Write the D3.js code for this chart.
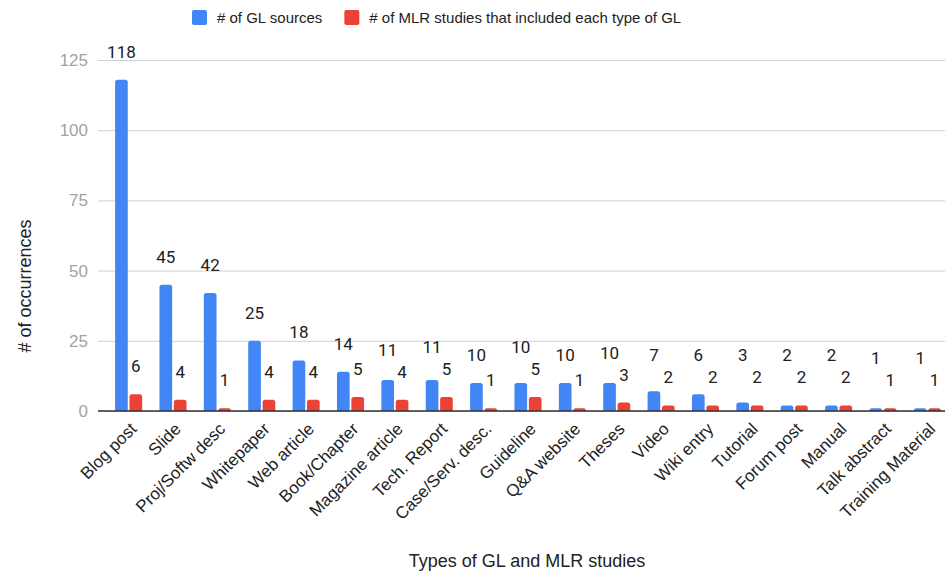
<!DOCTYPE html>
<html>
<head>
	<script src="https://cdn.jsdelivr.net/npm/d3@7"></script>
	<style>
		html, body {
			padding: 0;
			margin: 0;
			background: #fff;
		}
	</style>
</head>
<body>
	<script>
		var width = 948, height = 575;

		// data
		var categories = ['Blog post', 'Slide', 'Proj/Softw desc', 'Whitepaper', 'Web article', 'Book/Chapter',
			'Magazine article', 'Tech. Report', 'Case/Serv. desc.', 'Guideline', 'Q&A website', 'Theses',
			'Video', 'Wiki entry', 'Tutorial', 'Forum post', 'Manual', 'Talk abstract', 'Training Material'];
		var glSources = [118, 45, 42, 25, 18, 14, 11, 11, 10, 10, 10, 10, 7, 6, 3, 2, 2, 1, 1];
		var mlrStudies = [6, 4, 1, 4, 4, 5, 4, 5, 1, 5, 1, 3, 2, 2, 2, 2, 2, 1, 1];
		var seriesNames = ['# of GL sources', '# of MLR studies that included each type of GL'];
		var seriesColors = ['#4285f4', '#ea4335'];
		var yTicks = [0, 25, 50, 75, 100, 125];

		var svg = d3.select('body').append('svg')
			.attr('width', width)
			.attr('height', height)
			.style('font-family', '"Liberation Sans", Arial, sans-serif');

		var gridLeft = 98, gridRight = 945;

		var x0 = d3.scaleBand()
			.domain(categories)
			.range([104, 952])
			.paddingInner(0.39)
			.paddingOuter(0.25);

		var x1 = d3.scaleBand()
			.domain([0, 1])
			.range([0, x0.bandwidth()])
			.paddingInner(0.12);

		var y = d3.scaleLinear()
			.domain([0, 125])
			.range([411, 60]);

		// gridlines + tick labels
		var yAxis = svg.append('g')
			.attr('transform', 'translate(' + gridLeft + ',0)')
			.call(d3.axisLeft(y).tickValues(yTicks).tickSize(-(gridRight - gridLeft)).tickPadding(10));
		yAxis.select('.domain').remove();
		yAxis.selectAll('.tick line').attr('stroke', '#d0d0d0').attr('stroke-width', 1);
		yAxis.selectAll('.tick text')
			.attr('fill', '#a3a3a3')
			.attr('font-size', 17)
			.attr('font-family', '"Liberation Sans", Arial, sans-serif');

		// rounded-top bar path
		function barPath(x, yTop, w, yBase) {
			var r = Math.min(2.5, (yBase - yTop), w / 2);
			return 'M' + x + ',' + yBase +
				'V' + (yTop + r) +
				'Q' + x + ',' + yTop + ' ' + (x + r) + ',' + yTop +
				'H' + (x + w - r) +
				'Q' + (x + w) + ',' + yTop + ' ' + (x + w) + ',' + (yTop + r) +
				'V' + yBase + 'Z';
		}

		var rows = categories.map(function(c, i) {
			return {cat: c, vals: [glSources[i], mlrStudies[i]]};
		});

		var groups = svg.append('g').selectAll('g')
			.data(rows)
			.enter().append('g')
			.attr('transform', function(d) { return 'translate(' + x0(d.cat) + ',0)'; });

		groups.selectAll('path')
			.data(function(d) { return d.vals.map(function(v, k) { return {k: k, v: v}; }); })
			.enter().append('path')
			.attr('fill', function(d) { return seriesColors[d.k]; })
			.attr('d', function(d) { return barPath(x1(d.k), y(d.v), x1.bandwidth(), y(0)); });

		// data labels (blue label pushed up when it would bump into the red one)
		groups.each(function(d) {
			var g = d3.select(this);
			var redC = y(d.vals[1]) - 28;
			var blueC = Math.min(y(d.vals[0]) - 28, redC - 22);
			[blueC, redC].forEach(function(c, k) {
				g.append('text')
					.attr('x', x1(k) + x1.bandwidth() / 2)
					.attr('y', c)
					.attr('dy', '0.35em')
					.attr('text-anchor', 'middle')
					.attr('font-family', 'Roboto, sans-serif')
					.attr('font-size', 17)
					.attr('fill', '#212121')
					.text(d.vals[k]);
			});
		});

		// baseline
		svg.append('line')
			.attr('x1', gridLeft).attr('x2', gridRight)
			.attr('y1', y(0)).attr('y2', y(0))
			.attr('stroke', '#333').attr('stroke-width', 1.3);

		// category labels
		svg.append('g').selectAll('text')
			.data(categories)
			.enter().append('text')
			.attr('transform', function(c) {
				return 'translate(' + (x0(c) + x0.bandwidth() / 2 + 9) + ',' + (y(0) + 19) + ') rotate(-45)';
			})
			.attr('text-anchor', 'end')
			.attr('font-size', 17)
			.attr('fill', '#222')
			.text(function(c) { return c; });

		// axis titles
		svg.append('text')
			.attr('x', 527).attr('y', 567)
			.attr('text-anchor', 'middle')
			.attr('font-size', 18)
			.attr('fill', '#222')
			.text('Types of GL and MLR studies');

		svg.append('text')
			.attr('transform', 'translate(31,286) rotate(-90)')
			.attr('text-anchor', 'middle')
			.attr('font-size', 18)
			.attr('fill', '#222')
			.text('# of occurrences');

		// legend
		var legend = svg.append('g').attr('transform', 'translate(192,10)');
		var lx = 0;
		seriesNames.forEach(function(name, k) {
			legend.append('rect')
				.attr('x', lx).attr('y', 0)
				.attr('width', 15).attr('height', 15)
				.attr('rx', 2)
				.attr('fill', seriesColors[k]);
			var t = legend.append('text')
				.attr('x', lx + 25).attr('y', 13)
				.attr('font-size', 15)
				.attr('fill', '#222')
				.text(name);
			lx += 25 + t.node().getComputedTextLength() + 22;
		});
	</script>
</body>
</html>
